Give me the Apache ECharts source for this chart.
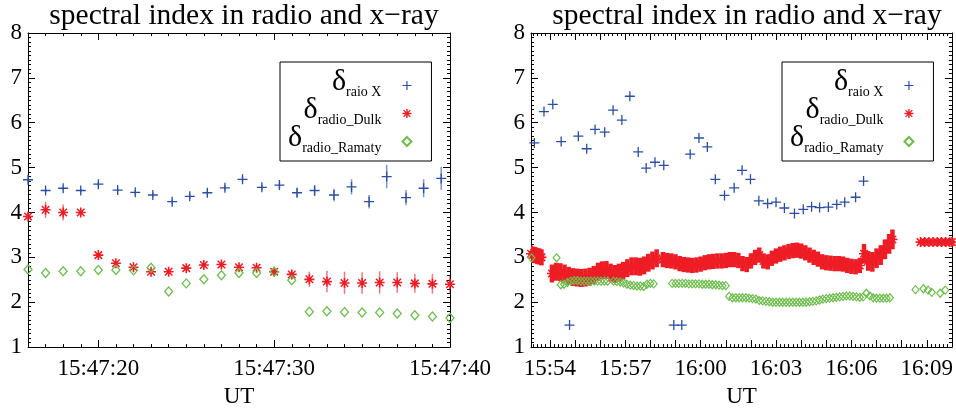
<!DOCTYPE html>
<html>
<head>
<meta charset="utf-8">
<script src="https://cdn.jsdelivr.net/npm/echarts@6/dist/echarts.min.js"></script>
<style>
  html, body { margin: 0; padding: 0; background: #fff; }
  #chart { width: 956px; height: 413px; }
</style>
</head>
<body>
<div id="chart"></div>
<script>
// ---- left panel, time in seconds after 15:47:00 UT ----
const leftBlueT = [16.0, 17.0, 18.0, 19.0, 20.0, 21.1, 22.1, 23.1, 24.2, 25.2, 26.2, 27.2,
  28.2, 29.3, 30.3, 31.3, 32.3, 33.4, 34.4, 35.4, 36.4, 37.5, 38.5, 39.5];
const leftBlueV = [4.73, 4.49, 4.54, 4.49, 4.63, 4.50, 4.45, 4.39, 4.24, 4.36, 4.44, 4.55,
  4.74, 4.56, 4.61, 4.44, 4.49, 4.39, 4.57, 4.24, 4.80, 4.33, 4.54, 4.76];
const leftBlueErr = [0.10, 0.04, 0.04, 0.04, 0.05, 0.05, 0.05, 0.05, 0.05, 0.05, 0.06, 0.06,
  0.06, 0.06, 0.07, 0.10, 0.12, 0.14, 0.17, 0.15, 0.26, 0.17, 0.20, 0.26];

const leftT = [16, 17, 18, 19, 20, 21, 22, 23, 24, 25, 26, 27, 28, 29, 30, 31, 32, 33, 34, 35, 36, 37, 38, 39, 40];
const leftRedV = [3.91, 4.06, 4.00, 4.00, 3.05, 2.87, 2.78, 2.68, 2.68, 2.76, 2.83, 2.84, 2.78,
  2.77, 2.68, 2.62, 2.51, 2.46, 2.43, 2.43, 2.44, 2.44, 2.42, 2.41, 2.40];
const leftRedErr = [0.06, 0.18, 0.18, 0.05, 0.05, 0.05, 0.05, 0.05, 0.05, 0.05, 0.05, 0.05, 0.05,
  0.05, 0.08, 0.10, 0.17, 0.24, 0.25, 0.24, 0.25, 0.23, 0.21, 0.22, 0.20];
const leftGreenV = [2.73, 2.65, 2.69, 2.69, 2.72, 2.72, 2.71, 2.77, 2.24, 2.42, 2.51, 2.60, 2.65,
  2.65, 2.68, 2.49, 1.79, 1.80, 1.78, 1.77, 1.77, 1.75, 1.71, 1.68, 1.65];

// ---- right panel, time in seconds after 15:54:00 UT ----
const rightBlueT = [-37, -14, 7, 27, 47, 68, 88, 108, 131, 151, 172, 191, 211, 230, 251, 272,
  296, 315, 335, 356, 376, 395, 417, 440, 459, 479, 499, 520, 540, 560, 584, 605, 625, 644,
  665, 685, 704, 730, 749];
const rightBlueV = [5.55, 6.25, 6.41, 5.58, 1.49, 5.70, 5.42, 5.85, 5.79, 6.28, 6.06, 6.59, 5.35,
  4.99, 5.12, 5.05, 1.49, 1.49, 5.30, 5.66, 5.46, 4.74, 4.38, 4.55, 4.94, 4.74, 4.26, 4.20,
  4.23, 4.10, 3.98, 4.07, 4.13, 4.11, 4.12, 4.18, 4.23, 4.34, 4.70];

const rightRedT = [
  -45, -40, -35, -30, -25, -20,
  5, 15, 25, 35, 45, 55, 65, 75, 85, 95, 105, 115, 125, 135, 145, 155, 165, 175, 185, 195,
  205, 215, 225, 235, 245, 255,
  270, 280, 290, 300, 310, 320, 330, 340, 350, 360, 370, 380, 390, 400, 410, 420, 430, 440,
  450, 460, 470, 480, 490, 500, 510, 520, 530, 540, 550, 560, 570, 580, 590, 600, 610, 620,
  630, 640, 650, 660, 670, 680, 690, 700, 710, 720, 730, 740, 750, 760, 770, 780, 790, 800,
  810, 818,
  885, 895, 905, 915, 925, 935, 945, 955, 960];
const rightRedV = [
  3.08, 3.06, 3.05, 3.03, 3.02, 3.00,
  2.64, 2.68, 2.67, 2.64, 2.59, 2.56, 2.55, 2.54, 2.55, 2.57, 2.61, 2.68, 2.71, 2.72, 2.66,
  2.63, 2.66, 2.70, 2.76, 2.80, 2.80, 2.79, 2.82, 2.88, 2.93, 2.98,
  2.95, 2.93, 2.92, 2.90, 2.86, 2.84, 2.83, 2.82, 2.83, 2.85, 2.88, 2.90, 2.91, 2.92, 2.92,
  2.93, 2.95, 2.95, 2.93, 2.86, 2.84, 2.92, 3.00, 3.05, 2.92, 2.90, 2.98, 3.03, 3.07, 3.10,
  3.13, 3.15, 3.16, 3.14, 3.10, 3.05, 3.00, 2.96, 2.90, 2.88, 2.87, 2.86, 2.86, 2.85, 2.82,
  2.80, 2.79, 2.82, 3.08, 2.92, 2.90, 2.98, 3.05, 3.18, 3.30, 3.40,
  3.34, 3.34, 3.34, 3.34, 3.34, 3.34, 3.34, 3.34, 3.34];
const rightRedErr = [
  0.18, 0.18, 0.18, 0.18, 0.18, 0.18,
  0.20, 0.20, 0.20, 0.20, 0.20, 0.20, 0.20, 0.20, 0.20, 0.20, 0.20, 0.20, 0.20, 0.20, 0.20,
  0.20, 0.20, 0.20, 0.20, 0.20, 0.20, 0.20, 0.20, 0.20, 0.20, 0.20,
  0.17, 0.17, 0.17, 0.17, 0.17, 0.17, 0.17, 0.17, 0.17, 0.17, 0.17, 0.17, 0.17, 0.17, 0.17,
  0.17, 0.17, 0.17, 0.17, 0.17, 0.17, 0.17, 0.17, 0.17, 0.17, 0.17, 0.17, 0.17, 0.17, 0.17,
  0.17, 0.17, 0.17, 0.17, 0.17, 0.17, 0.17, 0.17, 0.17, 0.17, 0.17, 0.17, 0.17, 0.17, 0.17,
  0.17, 0.17, 0.17, 0.22, 0.22, 0.22, 0.22, 0.22, 0.22, 0.22, 0.22,
  0, 0, 0, 0, 0, 0, 0, 0, 0];

const rightGreenT = [
  -44, 16,
  26, 34, 42, 50, 58, 66, 74, 82, 90, 98, 106, 114, 122, 130, 138,
  152, 160, 168, 176, 184, 192, 200, 208, 216, 224, 232, 240, 248,
  292, 300, 308, 316, 324, 332, 340, 348, 356, 364, 372, 380, 388, 396, 404, 412, 420,
  428, 436, 444, 452, 460, 468, 476, 484, 492, 500, 508, 516, 524,
  532, 540, 548, 556, 564, 572, 580, 588, 596, 604, 612,
  620, 628, 636, 644, 652, 660, 668, 676, 684, 692, 700, 708, 716, 724, 732, 740, 748, 756,
  764, 772, 780, 788, 796, 804, 812,
  873, 892, 903, 912, 932, 944];
const rightGreenV = [
  2.99, 2.99,
  2.39, 2.40, 2.44, 2.47, 2.48, 2.48, 2.47, 2.47, 2.47, 2.47, 2.47, 2.47, 2.47, 2.47, 2.47,
  2.47, 2.46, 2.45, 2.43, 2.40, 2.38, 2.37, 2.36, 2.36, 2.35, 2.40, 2.42, 2.41,
  2.42, 2.42, 2.42, 2.42, 2.42, 2.41, 2.41, 2.41, 2.41, 2.40, 2.40, 2.40, 2.39, 2.39, 2.38, 2.37, 2.37,
  2.13, 2.10, 2.10, 2.10, 2.10, 2.10, 2.09, 2.08, 2.07, 2.04, 2.03, 2.02, 2.01,
  2.00, 2.00, 2.00, 2.00, 2.00, 2.00, 2.00, 2.00, 2.00, 2.00, 2.00,
  2.01, 2.02, 2.03, 2.05, 2.07, 2.08, 2.09, 2.10, 2.11, 2.12, 2.13, 2.14, 2.14, 2.13, 2.12, 2.11, 2.12, 2.20,
  2.14, 2.10, 2.09, 2.09, 2.09, 2.09, 2.10,
  2.28, 2.30, 2.27, 2.22, 2.20, 2.27];

// ---- axes / labels ----
const seriesNames = ['raio X', 'radio_Dulk', 'radio_Ramaty'];
const leftLabelT = [20, 30, 40];
const rightLabelT = [0, 180, 360, 540, 720, 900];
const titleText = 'spectral index in radio and x\u2212ray';
const axisName = 'UT';

const FONT = '"Liberation Serif", "Times New Roman", serif';
const BLUE = '#2b4ea2';
const RED = '#ee1d25';
const GREEN = '#6dbd4c';
const PLUS = 'path://M-1,-0.13H1V0.13H-1Z M-0.13,-1H0.13V1H-0.13Z';
const STAR = 'path://M-1,-0.16H1V0.16H-1Z M-0.16,-1H0.16V1H-0.16Z ' +
  'M-0.644,-0.856L0.856,0.644L0.644,0.856L-0.856,-0.644Z ' +
  'M0.644,-0.856L0.856,-0.644L-0.644,0.856L-0.856,0.644Z';

const pairs = (t, v) => t.map((x, i) => [x, v[i]]);
const bars = (t, v, e) => t.map((x, i) => [x, v[i] - e[i], v[i] + e[i]]);

function range(a, b, step) {
  const out = [];
  for (let x = a; x <= b; x += step) out.push(x);
  return out;
}

const leftFmt = v => '15:47:' + String(Math.round(v)).padStart(2, '0');
const rightFmt = v => {
  const s = 54 * 60 + Math.round(v);
  const h = 15 + Math.floor(s / 3600);
  const m = Math.floor((s % 3600) / 60);
  return h + ':' + String(m).padStart(2, '0');
};

function xAxes(gridIndex, min, max, labels, major, minor, fmt) {
  const base = {
    type: 'value', gridIndex, min, max,
    splitLine: { show: false },
    axisLine: { show: false, onZero: false },
    axisTick: { show: false },
    axisLabel: { show: false }
  };
  const line = { show: true, onZero: false, lineStyle: { color: '#000', width: 1 } };
  const tick = (vals, len) => ({ show: true, inside: true, length: len, customValues: vals, lineStyle: { color: '#000', width: 1 } });
  return [
    {
      ...base, position: 'bottom', axisLine: line, axisTick: tick(major, 7),
      axisLabel: { show: true, customValues: labels, formatter: fmt, margin: 10, color: '#000', fontSize: 23, fontFamily: FONT },
      name: axisName, nameLocation: 'middle', nameGap: 37,
      nameTextStyle: { color: '#000', fontSize: 23, fontFamily: FONT }
    },
    { ...base, position: 'top', axisLine: line, axisTick: tick(major, 7) },
    { ...base, position: 'bottom', axisTick: tick(minor, 3) },
    { ...base, position: 'top', axisTick: tick(minor, 3) }
  ];
}

function yAxes(gridIndex) {
  const common = {
    type: 'value', gridIndex, min: 1, max: 8, interval: 1,
    splitLine: { show: false },
    axisLine: { show: true, onZero: false, lineStyle: { color: '#000', width: 1 } },
    axisTick: { show: true, inside: true, length: 7, lineStyle: { color: '#000', width: 1 } },
    minorTick: { show: true, splitNumber: 10, length: 3, lineStyle: { color: '#000', width: 1 } }
  };
  return [
    { ...common, position: 'left', axisLabel: { color: '#000', fontSize: 23, fontFamily: FONT, margin: 6 } },
    { ...common, position: 'right', axisLabel: { show: false } }
  ];
}

function errBar(color, width) {
  return function (params, api) {
    const a = api.coord([api.value(0), api.value(1)]);
    const b = api.coord([api.value(0), api.value(2)]);
    return {
      type: 'line',
      shape: { x1: a[0], y1: a[1], x2: b[0], y2: b[1] },
      style: { stroke: color, lineWidth: width }
    };
  };
}

function legendAt(left, top) {
  return {
    left, top, orient: 'vertical', align: 'right',
    itemGap: -4, itemWidth: 9, itemHeight: 9,
    padding: [5, 19, 6, 8],
    borderColor: '#000', borderWidth: 1, backgroundColor: 'transparent',
    selectedMode: false,
    data: seriesNames,
    formatter: n => '{d|\u03b4}{s|' + n + '}',
    textStyle: {
      width: 106, color: '#000', fontFamily: FONT,
      rich: {
        d: { fontSize: 30, lineHeight: 27, fontFamily: FONT, verticalAlign: 'bottom', padding: [0, 0, 2, 0], align: 'right' },
        s: { fontSize: 14, lineHeight: 13, fontFamily: FONT, verticalAlign: 'bottom', padding: [0, 16, 0, 0], align: 'right' }
      }
    }
  };
}

const chart = echarts.init(document.getElementById('chart'));

const titleStyle = { fontFamily: FONT, fontSize: 29.5, fontWeight: 'normal', color: '#000' };

chart.setOption({
  animation: false,
  backgroundColor: '#fff',
  title: [
    { text: titleText, left: 239, top: -4, textAlign: 'center', textStyle: titleStyle },
    { text: titleText, left: 742, top: -4, textAlign: 'center', textStyle: titleStyle }
  ],
  legend: [legendAt(280, 62), legendAt(782, 62)],
  grid: [
    { left: 28, top: 33, width: 422, height: 317 },
    { left: 531, top: 33, width: 422, height: 317 }
  ],
  xAxis: [
    ...xAxes(0, 16, 40, leftLabelT, leftLabelT, range(16, 40, 1), leftFmt),
    ...xAxes(1, -45, 960, rightLabelT, range(0, 960, 60), range(-40, 960, 10), rightFmt)
  ],
  yAxis: [...yAxes(0), ...yAxes(1)],
  series: [
    // left panel
    { type: 'custom', name: 'errX', xAxisIndex: 0, yAxisIndex: 0, clip: true, silent: true, z: 1,
      encode: { x: 0, y: [1, 2] }, renderItem: errBar('rgba(43,78,162,0.6)', 1.5), data: bars(leftBlueT, leftBlueV, leftBlueErr) },
    { type: 'custom', name: 'errDulk', xAxisIndex: 0, yAxisIndex: 0, clip: true, silent: true, z: 1,
      encode: { x: 0, y: [1, 2] }, renderItem: errBar('rgba(238,29,37,0.6)', 1.5), data: bars(leftT, leftRedV, leftRedErr) },
    { type: 'scatter', name: seriesNames[0], xAxisIndex: 0, yAxisIndex: 0, clip: true, z: 3,
      symbol: PLUS, symbolSize: 10, itemStyle: { color: BLUE, opacity: 1 }, data: pairs(leftBlueT, leftBlueV) },
    { type: 'scatter', name: seriesNames[1], xAxisIndex: 0, yAxisIndex: 0, clip: true, z: 3,
      symbol: STAR, symbolSize: 10, itemStyle: { color: RED, opacity: 1 }, data: pairs(leftT, leftRedV) },
    { type: 'scatter', name: seriesNames[2], xAxisIndex: 0, yAxisIndex: 0, clip: true, z: 4,
      symbol: 'diamond', symbolSize: [8, 9], itemStyle: { color: 'rgba(0,0,0,0)', borderColor: GREEN, borderWidth: 1.3, opacity: 1 },
      data: pairs(leftT, leftGreenV) },
    // right panel
    { type: 'custom', name: 'errDulk2', xAxisIndex: 4, yAxisIndex: 2, clip: true, silent: true, z: 1,
      encode: { x: 0, y: [1, 2] }, renderItem: errBar(RED, 4.5), data: bars(rightRedT, rightRedV, rightRedErr) },
    { type: 'scatter', name: seriesNames[0], xAxisIndex: 4, yAxisIndex: 2, clip: true, z: 3,
      symbol: PLUS, symbolSize: 10, itemStyle: { color: BLUE, opacity: 1 }, data: pairs(rightBlueT, rightBlueV) },
    { type: 'scatter', name: seriesNames[1], xAxisIndex: 4, yAxisIndex: 2, clip: true, z: 3,
      symbol: STAR, symbolSize: 10, itemStyle: { color: RED, opacity: 1 }, data: pairs(rightRedT, rightRedV) },
    { type: 'scatter', name: seriesNames[2], xAxisIndex: 4, yAxisIndex: 2, clip: true, z: 4,
      symbol: 'diamond', symbolSize: [7, 8], itemStyle: { color: 'rgba(0,0,0,0)', borderColor: GREEN, borderWidth: 1.2, opacity: 1 },
      data: pairs(rightGreenT, rightGreenV) }
  ]
});
</script>
</body>
</html>
